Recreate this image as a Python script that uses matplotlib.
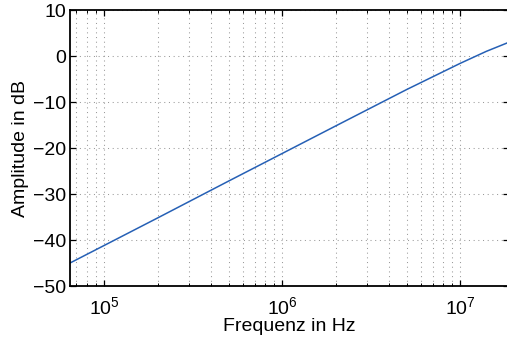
import numpy as np
import matplotlib
matplotlib.use("Agg")
import matplotlib.pyplot as plt

plt.rcParams['font.family'] = ['Liberation Sans', 'DejaVu Sans']
plt.rcParams['mathtext.fontset'] = 'custom'
plt.rcParams['mathtext.rm'] = 'Liberation Sans'
plt.rcParams['mathtext.it'] = 'Liberation Sans'

# values
freq = [6.44e4, 1e5, 2e5, 5e5, 1e6, 2e6, 5e6, 1e7, 1.4e7, 1.88e7]       # Hz
amp = [-45.0, -41.2, -35.2, -27.2, -21.2, -15.2, -7.3, -1.6, 1.0, 3.0]  # dB
x_range = [6.44e4, 1.88e7]
y_range = [-50, 10]
y_ticks = [-50, -40, -30, -20, -10, 0, 10]

fig = plt.figure(figsize=(5.07, 3.39), dpi=100)
# right spine sits just outside the picture, as in the reference
ax = fig.add_axes([70 / 507, 0.1563, 439 / 507, 0.8142])

ax.semilogx(freq, amp, color='#2660b5', linewidth=1.1)

ax.set_xlim(x_range)
ax.set_ylim(y_range)
ax.set_yticks(y_ticks)
ax.set_yticklabels([str(v).replace('-', '\u2212') for v in y_ticks])

grid_style = dict(linestyle=(0, (1, 3.5)), color='#9a9a9a', linewidth=0.75)
ax.grid(True, which='major', **grid_style)
ax.grid(True, which='minor', axis='x', **grid_style)

ax.tick_params(which='both', direction='in', top=True, right=True, labelsize=14)
ax.tick_params(which='major', length=4, width=0.9)
ax.tick_params(which='minor', length=2.5, width=0.7)
ax.tick_params(axis='y', which='minor', left=False, right=False)
ax.tick_params(axis='x', which='major', pad=7)
ax.tick_params(axis='y', which='major', pad=3)
for s in ax.spines.values():
    s.set_linewidth(1.3)

ax.set_xlabel("Frequenz in Hz", fontsize=14, labelpad=0)
ax.set_ylabel("Amplitude in dB", fontsize=14, labelpad=2.5)

fig.savefig("out.png", dpi=100)
